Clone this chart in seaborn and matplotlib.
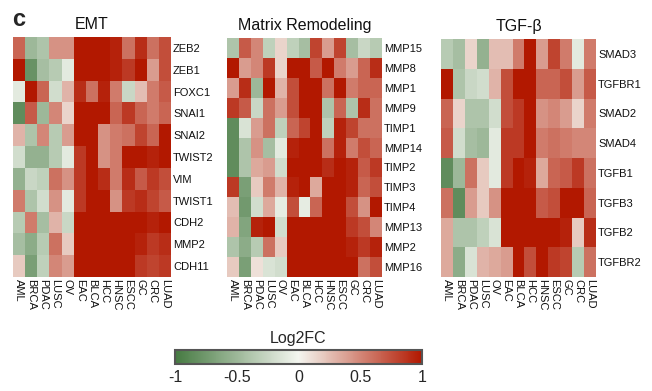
import numpy as np
import pandas as pd
import matplotlib
matplotlib.use("Agg")
import matplotlib.pyplot as plt
from matplotlib.colors import LinearSegmentedColormap
import seaborn as sns

sns.set_theme(style="white")
plt.rcParams['font.family'] = ['Liberation Sans', 'DejaVu Sans']

cancers = ["AML", "BRCA", "PDAC", "LUSC", "OV", "EAC", "BLCA", "HCC", "HNSC", "ESCC", "GC", "CRC", "LUAD"]

emt_genes = ["ZEB2", "ZEB1", "FOXC1", "SNAI1", "SNAI2", "TWIST2", "VIM", "TWIST1", "CDH2", "MMP2", "CDH11"]
emt_values = [
    [0.65, -0.5, -0.4, 0.45, 0.45, 1, 1, 1, 0.95, 0.6, 0.9, 0.6, 0.75],
    [1, -0.8, -0.45, -0.35, -0.1, 1, 1, 1, 0.95, 0.85, 1, 0.4, 0.75],
    [-0.1, 1, 0.65, -0.2, 0.3, 0.9, 0.6, 0.95, 0.55, -0.25, 0.25, 0.55, 0.7],
    [-0.85, 0.7, -0.5, 0.5, 0.15, 1, 1, 1, 0.65, 0.85, 0.65, 0.55, 0.65],
    [0.3, -0.4, 0.5, -0.35, 0.4, 1, 1, 0.45, 0.55, 0.6, 0.8, 0.65, 1],
    [-0.2, -0.55, -0.55, -0.35, -0.1, 0.85, 1, 0.45, 0.55, 1, 1, 0.95, 1],
    [-0.55, -0.25, -0.3, 0.6, 0.45, 0.85, 1, 0.9, 0.55, 0.9, 0.7, 0.85, 0.75],
    [0.55, -0.4, -0.2, 0.45, -0.1, 0.85, 1, 1, 0.45, 0.85, 0.9, 0.8, 0.7],
    [-0.35, 0.55, -0.45, 0.3, -0.25, 1, 1, 1, 1, 1, 1, 0.95, 1],
    [-0.45, -0.6, -0.35, 0.6, 0.2, 1, 1, 1, 1, 1, 0.95, 0.85, 0.9],
    [0.2, -0.7, -0.3, 0.5, 0.4, 1, 1, 1, 1, 1, 0.85, 0.8, 0.85],
]

mr_genes = ["MMP15", "MMP8", "MMP1", "MMP9", "TIMP1", "MMP14", "TIMP2", "TIMP3", "TIMP4", "MMP13", "MMP2", "MMP16"]
mr_values = [
    [-0.4, 0.7, 0.5, -0.3, 0.15, -0.3, -0.45, 0.8, 0.4, 0.8, -0.45, -0.25, -0.35],
    [1, 0.4, 0.5, 0.85, 0.15, 1, 1, 0.7, 1, 0.55, 0.4, 0.65, 0.9],
    [0.4, 0.9, -0.5, 1, 0.3, 0.75, 1, 1, 0.6, 1, 0.55, 0.65, 0.65],
    [0.85, 0.7, -0.25, 0.6, 0.4, 0.75, 1, 1, -0.4, 0.65, -0.4, 0.9, 0.6],
    [-0.85, -0.15, 0.4, 0.6, -0.3, 0.65, 0.8, 1, -0.3, 0.95, 0.8, 0.6, 0.6],
    [-0.85, -0.4, 0.45, -0.45, -0.1, 0.95, 1, 1, 0.6, 0.95, 0.55, 0.75, 0.65],
    [-0.85, -0.4, 0.35, 0.4, -0.2, 1, 1, 1, 0.9, 1, 0.95, 0.7, 0.85],
    [0.85, -0.7, 0.2, 0.55, 0.3, 0.95, 1, 0.35, 1, 1, 0.95, 0.65, 0.75],
    [0.25, -0.75, -0.2, 0.35, -0.08, 0.75, -0.08, 0.65, 1, 1, 0.75, 0.45, 1],
    [0.3, -0.65, 0.95, 1, -0.2, 1, 1, 1, 1, 1, 0.85, 0.75, 0.5],
    [-0.4, -0.6, -0.35, 0.6, 0.2, 1, 1, 1, 1, 1, 0.95, 0.85, 0.95],
    [0.2, -0.7, 0.1, -0.15, -0.2, 1, 1, 1, 1, 1, 1, 0.6, 0.75],
]

tgf_genes = ["SMAD3", "TGFBR1", "SMAD2", "SMAD4", "TGFB1", "TGFB3", "TGFB2", "TGFBR2"]
tgf_values = [
    [-0.35, -0.45, 0.15, -0.55, 0.25, 0.25, 0.55, 1, 0.4, 0.8, 0.55, -0.1, 0.55],
    [1, -0.4, -0.25, -0.2, 0.3, 0.75, 1, 1, 0.65, 0.65, 0.75, 0.4, 0.7],
    [0.65, 0.15, -0.4, -0.4, -0.2, 0.75, 0.85, 1, 0.45, 0.5, 0.4, 0.15, 0.55],
    [0.7, -0.2, -0.45, -0.5, -0.1, 0.85, 0.85, 1, 0.55, 0.6, 0.55, 0.5, 0.5],
    [-0.85, -0.5, 0.6, 0.2, -0.1, 0.85, 1, 0.95, 0.35, 0.65, 0.7, 0.85, 0.6],
    [0.6, -0.85, 0.4, 0.2, 0.45, 1, 1, 1, 0.7, 0.75, 1, 1, 0.65],
    [0.35, -0.4, -0.4, -0.3, -0.15, 1, 1, 1, 1, 1, 0.95, 0.2, 0.9],
    [0.35, -0.6, -0.15, 0.3, 0.35, 0.4, 1, 0.75, 1, 0.85, 0.8, -0.35, 0.6],
]

cmap = LinearSegmentedColormap.from_list("gwr", ["#467a42", "#f4f6f0", "#b21800"])

W, H = 652, 391
fig = plt.figure(figsize=(W / 100, H / 100), dpi=100)

def px_axes(x0, y0, x1, y1):
    return fig.add_axes([x0 / W, 1 - y1 / H, (x1 - x0) / W, (y1 - y0) / H])

panels = [
    ("EMT", emt_genes, emt_values, (13, 37, 171, 277)),
    ("Matrix Remodeling", mr_genes, mr_values, (227, 38, 382, 277)),
    ("TGF-\u03b2", tgf_genes, tgf_values, (441, 39, 596, 277)),
]

for title, genes, vals, box in panels:
    ax = px_axes(*box)
    df = pd.DataFrame(vals, index=genes, columns=cancers)
    sns.heatmap(df, ax=ax, cmap=cmap, vmin=-1, vmax=1, cbar=False,
                linewidths=0, xticklabels=True, yticklabels=True)
    ax.yaxis.tick_right()
    ax.set_yticklabels(genes, rotation=0, fontsize=8, color="#111111")
    ax.set_xticklabels(cancers, rotation=270, fontsize=8, color="#111111", va="top")
    ax.tick_params(axis="both", length=0, pad=1.5)
    ax.set_title(title, fontsize=11.5, pad=6, color="#111111")
    ax.set_xlabel("")
    ax.set_ylabel("")

fig.text(12 / W, 1 - 19 / H, "c", fontsize=17, fontweight="bold", va="center", ha="left")

cax = px_axes(175, 350, 422, 364)
norm = matplotlib.colors.Normalize(vmin=-1, vmax=1)
cb = fig.colorbar(matplotlib.cm.ScalarMappable(norm=norm, cmap=cmap), cax=cax, orientation="horizontal")
cb.set_ticks([-1, -0.5, 0, 0.5, 1])
cb.set_ticklabels(["-1", "-0.5", "0", "0.5", "1"])
cb.ax.tick_params(length=0, labelsize=11.5, pad=4)
cb.outline.set_edgecolor("#555555")
cb.outline.set_linewidth(1.5)
cax.set_title("Log2FC", fontsize=11.5, pad=5)

fig.savefig("out.png", dpi=100)
